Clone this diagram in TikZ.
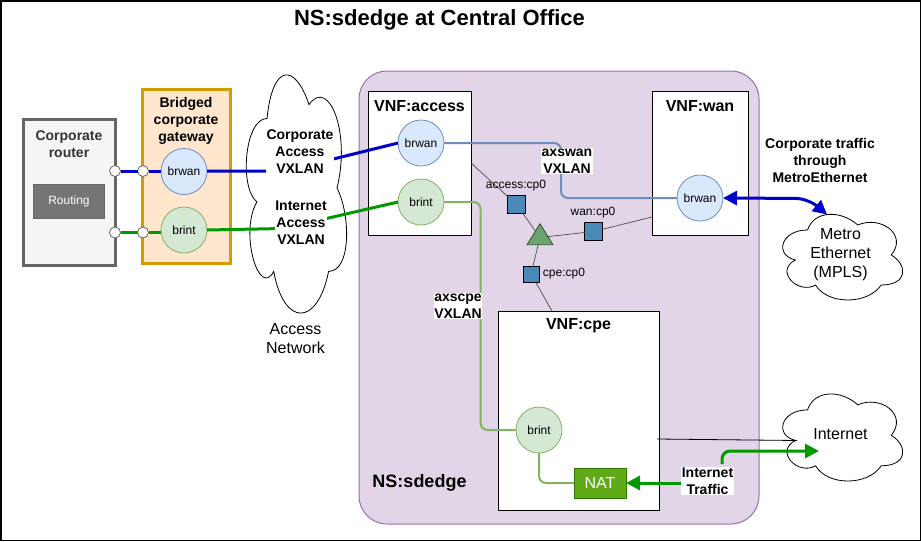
\documentclass[tikz,border=0pt]{standalone}
\usepackage{fontspec}
\setmainfont{Liberation Sans}
\usetikzlibrary{arrows.meta,shapes.geometric}
\newcommand{\cloudat}[4]{%
  \begin{scope}[shift={(#1,#2)},x=#3pt,y=-#4pt]
  \draw[fill=white,line width=0.8pt] (.25,.25) .. controls (.05,.25) and (0,.5) .. (.16,.55)
    .. controls (0,.66) and (.18,.9) .. (.31,.8)
    .. controls (.4,1) and (.7,1) .. (.8,.8)
    .. controls (1,.8) and (1,.6) .. (.875,.5)
    .. controls (1,.3) and (.8,.1) .. (.625,.2)
    .. controls (.5,.05) and (.3,.05) .. (.25,.25) -- cycle;
  \end{scope}}
\begin{document}
\begin{tikzpicture}[x=1pt,y=-1pt,
  box/.style={draw,rectangle,fill=white,line width=1pt,inner sep=0pt,outer sep=0pt},
  head/.style={font=\fontsize{16}{19}\selectfont\bfseries,align=center,inner sep=0pt},
  boldtext/.style={font=\fontsize{14}{17}\selectfont\bfseries,align=center,inner sep=0pt},
  plain/.style={font=\fontsize{16}{19}\selectfont,align=center,inner sep=0pt},
  small/.style={font=\fontsize{12}{14}\selectfont,align=center,inner sep=0pt},
  tag/.style={boldtext,fill=white,inner sep=0.5pt},
  brwanif/.style={small,draw=blueedge,fill=bluefill,circle,minimum size=46pt,line width=0.8pt,outer sep=0pt},
  brintif/.style={small,draw=greenedge,fill=greenfill,circle,minimum size=46pt,line width=0.8pt,outer sep=0pt},
  port/.style={draw=routeredge,fill=white,circle,minimum size=11pt,inner sep=0pt,line width=0.8pt,outer sep=0pt},
  cpoint/.style={draw,fill=cpblue,rectangle,minimum size=18pt,inner sep=0pt,line width=0.8pt,outer sep=0pt},
  mgmt/.style={draw=black!70,line width=0.7pt},
  bluelink/.style={draw=linkblue,line width=3pt},
  greenlink/.style={draw=linkgreen,line width=3pt},
  softblue/.style={draw=blueedge,line width=2pt,rounded corners=7pt},
  softgreen/.style={draw=greenedge,line width=2pt,rounded corners=7pt},
  bigtip/.style={-{Triangle[length=14pt,width=14pt]}}]
\definecolor{bluefill}{HTML}{DAE8FC}
\definecolor{blueedge}{HTML}{6C8EBF}
\definecolor{greenfill}{HTML}{D5E8D4}
\definecolor{greenedge}{HTML}{82B366}
\definecolor{linkblue}{HTML}{0000CC}
\definecolor{linkgreen}{HTML}{009900}
\definecolor{cpblue}{HTML}{4A8AB9}
\definecolor{routeredge}{HTML}{666666}
\definecolor{podfill}{HTML}{E1D5E7}
\definecolor{podedge}{HTML}{9673A6}
\definecolor{gwfill}{HTML}{FFE6CC}
\definecolor{gwedge}{HTML}{D79B00}
\definecolor{natfill}{HTML}{60A917}
\definecolor{natedge}{HTML}{2D7600}
\definecolor{meshfill}{HTML}{6AA36F}
\definecolor{meshedge}{HTML}{2D5A2D}
\useasboundingbox (0,0) rectangle (921,541);
\node[draw,rectangle,line width=1.5pt,minimum width=919.5pt,minimum height=539.5pt,inner sep=0pt] (frame) at (460.5,270.5) {};
\node[font=\fontsize{22}{26}\selectfont\bfseries,inner sep=0pt] (title) at (439.5,20) {NS:sdedge at Central Office};

\node[draw=routeredge,fill=black!4,line width=3pt,minimum width=92pt,minimum height=146pt,inner sep=0pt,outer sep=0pt] (router) at (69,192) {};
\node[boldtext,text=black!80] (routername) at (69,144) {Corporate\\router};
\node[draw=routeredge,fill=black!54,line width=1pt,text=white,small,minimum width=71pt,minimum height=34pt] (routing) at (69,201) {Routing};
\node[draw=gwedge,fill=gwfill,line width=3pt,minimum width=88pt,minimum height=174pt,inner sep=0pt,outer sep=0pt] (gateway) at (186,176) {};
\node[boldtext] (gatewayname) at (186,121) {Bridged\\corporate\\gateway};

\cloudat{239}{49}{112}{278}
\node[plain] (accessnet) at (295.5,339) {Access\\Network};

\node[draw=podedge,fill=podfill,line width=1pt,rounded corners=28pt,minimum width=400pt,minimum height=453pt,inner sep=0pt,outer sep=0pt] (pod) at (559,297.5) {};
\node[font=\fontsize{18}{21}\selectfont\bfseries,inner sep=0pt] (podname) at (419.5,483) {NS:sdedge};

\node[box,minimum width=103pt,minimum height=144pt] (access) at (419.5,163) {};
\node[box,minimum width=96pt,minimum height=144pt] (wan) at (700,163) {};
\node[box,minimum width=161pt,minimum height=199pt] (cpe) at (578.5,410.5) {};
\node[head] (accessname) at (419.5,106) {VNF:access};
\node[head] (wanname) at (700,106) {VNF:wan};
\node[head] (cpename) at (578.5,326) {VNF:cpe};

\node[isosceles triangle,isosceles triangle apex angle=64,isosceles triangle stretches,shape border rotate=90,draw=meshedge,fill=meshfill,line width=0.8pt,minimum height=21pt,minimum width=26pt,inner sep=0pt,outer sep=0pt] (mesh) at (540,237.5) {};
\coordinate (accesscorner) at (471,163);
\coordinate (wanedge) at (652,217);
\coordinate (cpeedge) at (552,311);
\node[cpoint] (accesscp) at (516.5,204.5) {};
\node[cpoint] (wancp) at (593.5,231.5) {};
\node[cpoint,minimum size=16pt] (cpecp) at (531,274) {};
\draw[mgmt] (accesscorner) -- (accesscp) -- (mesh);
\draw[mgmt] (mesh) -- (wancp) -- (wanedge);
\draw[mgmt] (mesh) -- (cpecp) -- (cpeedge);
\node[small] (accesscpname) at (516,186) {access:cp0};
\node[small] (wancpname) at (593,213) {wan:cp0};
\node[small] (cpecpname) at (564,274) {cpe:cp0};

\node[brwanif] (gwbrwan) at (184,171.5) {brwan};
\node[brintif] (gwbrint) at (184,230) {brint};
\node[brwanif] (accessbrwan) at (421,143) {brwan};
\node[brintif] (accessbrint) at (421,202) {brint};
\node[brwanif] (wanbrwan) at (700,198) {brwan};
\node[brintif] (cpebrint) at (539,430) {brint};
\node[draw=natedge,fill=natfill,text=white,font=\fontsize{16}{18}\selectfont,minimum width=52pt,minimum height=30pt,inner sep=0pt,outer sep=0pt] (nat) at (600,483) {NAT};

\node[port] (rportb) at (115,171) {};
\node[port] (gportb) at (143,171) {};
\node[port] (rportg) at (115,232.5) {};
\node[port] (gportg) at (143,232.5) {};
\draw[bluelink] (rportb) -- (gportb);
\draw[bluelink] (gportb) -- (gwbrwan.west |- gportb);
\draw[greenlink] (rportg) -- (gportg);
\draw[greenlink] (gportg) -- (gwbrint.west |- gportg);

\coordinate (bluebend) at (285,171);
\coordinate (greenbend) at (283,228.5);
\draw[bluelink] (gwbrwan.east |- bluebend) -- (bluebend) -- (accessbrwan.west);
\draw[greenlink] (gwbrint.east) -- (greenbend) -- (accessbrint.west);
\node[tag] (corpvxlan) at (300,152) {Corporate\\Access\\VXLAN};
\node[tag] (inetvxlan) at (301,223) {Internet\\Access\\VXLAN};

\draw[softblue] (accessbrwan.east) -| (561,198) -- (wanbrwan.west);
\node[tag] (wanvxlan) at (567,161) {axswan\\VXLAN};
\draw[softgreen] (accessbrint.east) -| (480.5,430) -- (cpebrint.west);
\node[tag] (cpevxlan) at (458,306) {axscpe\\VXLAN};
\draw[softgreen] (cpebrint.south) |- (nat.west);

\cloudat{774}{205}{134}{100}
\cloudat{774}{384.5}{134}{101.6}
\node[plain] (metro) at (840.5,255) {Metro\\Ethernet\\(MPLS)};
\node[plain] (internet) at (840.5,434) {Internet};
\node[boldtext] (metrotext) at (820,160) {Corporate traffic\\through\\MetroEthernet};

\coordinate (metrotop) at (827,214.5);
\coordinate (cloudedge) at (797,440.5);
\coordinate (cpeside) at (657,439);
\coordinate (cloudinside) at (819,451);
\draw[draw=black,line width=0.8pt] (cpeside) -- (cloudedge);
\draw[bluelink,{Triangle[length=14pt,width=14pt]}-{Triangle[length=14pt,width=14pt]},rounded corners=12pt] (wanbrwan.east) -- (808,198.5) -- (metrotop);
\node[tag] (traffic) at (707.5,481) {Internet\\Traffic};
\draw[greenlink,bigtip] (traffic.west |- nat) -- (nat.east);
\draw[greenlink,bigtip,rounded corners=8pt] (722,464) |- (cloudinside);
\end{tikzpicture}
\end{document}
